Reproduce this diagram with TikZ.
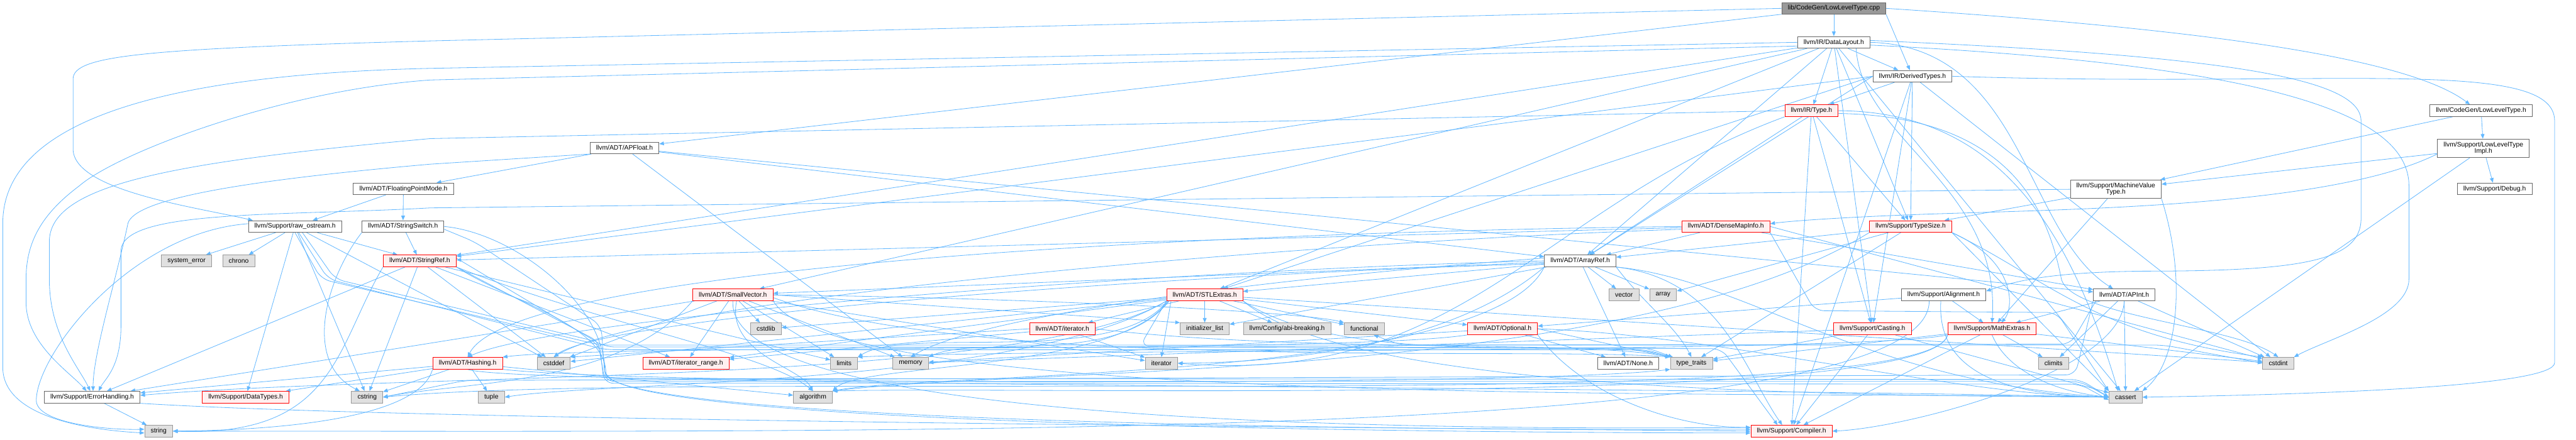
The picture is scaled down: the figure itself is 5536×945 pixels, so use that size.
\documentclass[tikz,border=0pt]{standalone}
\usepackage{fontspec}
\setmainfont{Liberation Sans}
\usetikzlibrary{arrows.meta}
\definecolor{depblue}{HTML}{63B8FF}
\definecolor{cutfill}{HTML}{FFF0F0}
\definecolor{sysfill}{HTML}{E0E0E0}
\definecolor{sysline}{HTML}{999999}
\definecolor{hdrline}{HTML}{666666}
\pgfdeclarelayer{edges}
\pgfsetlayers{edges,main}
\tikzset{
  hdr/.style={draw=hdrline,fill=white,line width=0.6pt,inner xsep=6.5pt,inner ysep=0pt,
    minimum height=12.6pt,align=center,font=\fontsize{7}{7}\selectfont},
  twoline/.style={minimum height=20pt},
  syshdr/.style={hdr,draw=sysline,fill=sysfill},
  cuthdr/.style={hdr,draw=red,fill=cutfill},
  roothdr/.style={hdr,fill=sysline},
  dep/.style={depblue,line width=0.55pt,-{Triangle[length=5pt,width=4pt]}},
  band/.style={dep,rounded corners=10pt}
}

\begin{document}
\begin{tikzpicture}[x=0.5pt,y=-0.5pt]
  \useasboundingbox (0,0) rectangle (5536,945);
  \node[roothdr] (cpp) at (3941,18) {lib/CodeGen/LowLevelType.cpp};
  \node[hdr] (dl) at (3941,91) {llvm/IR/DataLayout.h};
  \node[hdr] (dt) at (4110,164) {llvm/IR/DerivedTypes.h};
  \node[cuthdr] (ty) at (3893,238) {llvm/IR/Type.h};
  \node[hdr] (llth) at (5332,238) {llvm/CodeGen/LowLevelType.h};
  \node[hdr,twoline] (llti) at (5337,319) {llvm/Support/LowLevelType\\Impl.h};
  \node[hdr] (apf) at (1342,318) {llvm/ADT/APFloat.h};
  \node[hdr] (fpm) at (867,406) {llvm/ADT/FloatingPointMode.h};
  \node[hdr,twoline] (mvt) at (4547,407) {llvm/Support/MachineValue\\Type.h};
  \node[hdr] (dbg) at (5361,406) {llvm/Support/Debug.h};
  \node[hdr] (ros) at (634,487) {llvm/Support/raw\_ostream.h};
  \node[hdr] (ssw) at (866,487) {llvm/ADT/StringSwitch.h};
  \node[cuthdr] (dmi) at (3709,487) {llvm/ADT/DenseMapInfo.h};
  \node[cuthdr] (tsz) at (4106,487) {llvm/Support/TypeSize.h};
  \node[syshdr] (serr) at (401,561) {system\_error};
  \node[syshdr] (chr) at (513,561) {chrono};
  \node[cuthdr] (sref) at (902,561) {llvm/ADT/StringRef.h};
  \node[hdr] (aref) at (3396,561) {llvm/ADT/ArrayRef.h};
  \node[cuthdr] (svec) at (1575,634) {llvm/ADT/SmallVector.h};
  \node[cuthdr] (stl) at (2589,634) {llvm/ADT/STLExtras.h};
  \node[syshdr] (vec) at (3490,634) {vector};
  \node[syshdr] (arr) at (3574,634) {array};
  \node[hdr] (aln) at (4177,634) {llvm/Support/Alignment.h};
  \node[hdr] (apint) at (4565,634) {llvm/ADT/APInt.h};
  \node[syshdr] (cstdl) at (1646,707) {cstdlib};
  \node[cuthdr] (iterh) at (2283,707) {llvm/ADT/iterator.h};
  \node[syshdr] (ilist) at (2589,707) {initializer\_list};
  \node[syshdr] (abi) at (2766,707) {llvm/Config/abi-breaking.h};
  \node[syshdr] (func) at (2932,707) {functional};
  \node[cuthdr] (opt) at (3229,707) {llvm/ADT/Optional.h};
  \node[cuthdr] (cast) at (4024,707) {llvm/Support/Casting.h};
  \node[cuthdr] (mext) at (4281,707) {llvm/Support/MathExtras.h};
  \node[cuthdr] (hash) at (1005,781) {llvm/ADT/Hashing.h};
  \node[syshdr] (cdef) at (1190,781) {cstddef};
  \node[cuthdr] (iterr) at (1474,781) {llvm/ADT/iterator\_range.h};
  \node[syshdr] (lim) at (1814,781) {limits};
  \node[syshdr] (mem) at (1957,781) {memory};
  \node[syshdr] (iter) at (2496,781) {iterator};
  \node[hdr] (none) at (3499,781) {llvm/ADT/None.h};
  \node[syshdr] (ttr) at (3635,781) {type\_traits};
  \node[syshdr] (clim) at (4413,781) {climits};
  \node[syshdr] (cint) at (4896,781) {cstdint};
  \node[hdr] (eh) at (198,854) {llvm/Support/ErrorHandling.h};
  \node[cuthdr] (dtyp) at (528,854) {llvm/Support/DataTypes.h};
  \node[syshdr] (cstr) at (789,854) {cstring};
  \node[syshdr] (tup) at (1056,854) {tuple};
  \node[syshdr] (alg) at (1747,854) {algorithm};
  \node[syshdr] (cass) at (4568,854) {cassert};
  \node[syshdr] (str) at (341,927) {string};
  \node[cuthdr] (comp) at (3850,927) {llvm/Support/Compiler.h};
  \begin{pgfonlayer}{edges}
    \fill[white] (0,0) rectangle (5536,945);
    \draw[dep] (cpp) -- (dl);
    \draw[dep] (cpp.south east) -- (dt);
    \draw[dep] (cpp) -- (apf);
    \draw[dep] (cpp.west) -- (925,88) .. controls (300,105) and (157,120) .. (157,170) -- (157,320) .. controls (157,410) and (420,445) .. ([xshift=5pt]ros.north west);
    \draw[dep] (cpp.east) .. controls (4700,60) and (5170,120) .. ([xshift=-12pt]llth.north);
    \foreach \t in {dt,ty,tsz,aref,stl,svec,sref,cast,cass} \draw[dep] (dl) -- (\t);
    \draw[dep] ([xshift=24pt]dl.south) .. controls (4000,300) and (4300,400) .. (mext.north);
    \draw[dep] (dl.east) .. controls (4350,100) and (4350,500) .. ([xshift=-12pt]apint.north);
    \draw[dep] (dl.west) -- (925,147) .. controls (350,160) and (6,260) .. (6,480) -- (6,790) .. controls (6,900) and (200,925) .. ([yshift=-2pt]str.west);
    \draw[dep] ([yshift=-4pt]dl.west) -- (925,172) .. controls (600,195) and (250,330) .. (170,400) .. controls (90,460) and (56,520) .. (56,600) -- (56,650) .. controls (56,740) and (150,800) .. ([xshift=-6pt]eh.north);
    \draw[dep] ([yshift=2pt]dl.east) .. controls (4800,120) and (5074,170) .. (5074,260) -- (5074,470) .. controls (5074,560) and (4950,583) .. (4611,583) .. controls (4400,585) and (4330,605) .. ([yshift=4pt]aln.east);
    \draw[dep] ([yshift=-3pt]dl.east) .. controls (4900,140) and (5177,250) .. (5177,400) -- (5177,600) .. controls (5177,680) and (5000,730) .. (cint.north east);
    \foreach \t in {ty,tsz,comp,cint,cast} \draw[dep] (dt) -- (\t);
    \foreach \t in {aref,stl,sref} \draw[dep] (dt.west) -- (\t);
    \draw[dep] (dt.east) .. controls (5000,190) and (5490,120) .. (5490,260) -- (5490,780) .. controls (5490,830) and (5000,848) .. (cass.east);
    \foreach \t in {aref,cast,comp,tsz} \draw[dep] (ty) -- (\t);
    \draw[dep] (ty.east) .. controls (4300,240) and (4450,500) .. ([xshift=-8pt]cass.north);
    \draw[dep] ([yshift=-3pt]ty.east) .. controls (4320,250) and (4400,450) .. (4430,600) .. controls (4450,680) and (4800,700) .. (cint.north);
    \draw[dep] (ty.south west) .. controls (3300,450) and (3150,830) .. (iter.east);
    \draw[dep] (ty.west) -- (925,298) .. controls (350,350) and (106,400) .. (106,520) -- (106,600) .. controls (106,720) and (170,790) .. ([xshift=-2pt]eh.north);
    \foreach \t in {llti,mvt} \draw[dep] (llth) -- (\t);
    \foreach \t in {dbg,mvt,cass} \draw[dep] (llti) -- (\t);
    \draw[dep] ([yshift=-6pt]llti.west) .. controls (5000,450) and (4400,450) .. (4100,462) .. controls (3950,468) and (3850,475) .. ([yshift=3pt]dmi.east);
    \foreach \t in {mext,tsz} \draw[dep] (mvt) -- (\t);
    \draw[dep] (mvt.south east) .. controls (4700,600) and (4680,780) .. (cass.north east);
    \draw[dep] (mvt.west) -- (925,447) .. controls (600,465) and (260,450) .. (260,540) -- (260,700) .. controls (260,790) and (225,815) .. ([xshift=7pt]eh.north);
    \foreach \t in {fpm,apint,aref,mem} \draw[dep] (apf) -- (\t);
    \draw[dep] (apf.south west) -- (925,353) .. controls (500,390) and (290,430) .. (275,480) .. controls (250,600) and (200,760) .. ([xshift=1pt]eh.north);
    \foreach \t in {ssw,ros} \draw[dep] (fpm) -- (\t);
    \foreach \t in {sref,chr,serr,cdef,cstr,dtyp} \draw[dep] (ros) -- (\t);
    \draw[dep] ([yshift=3pt]ros.west) .. controls (280,500) and (80,760) .. (78,860) .. controls (76,910) and (230,925) .. ([yshift=2pt]str.west);
    \draw[band] (ros.south) -- (690,600) -- (1290,742) -- (4650,742) -- (cint.west);
    \draw[band] ([xshift=4pt]ros.south) -- (705,600) -- (1300,752) -- (3540,752) -- (ttr.north west);
    \draw[band] ([xshift=8pt]ros.south) -- (720,600) -- (1285,735) -- (1300,820) -- (4470,820) -- (cass.west);
    \draw[dep] (ssw) -- (sref);
    \draw[dep] (ssw.east) .. controls (1100,500) and (1300,650) .. (1300,800) .. controls (1300,900) and (2800,927) .. ([yshift=2pt]comp.west);
    \draw[band] ([yshift=-3pt]ssw.east) -- (1020,520) -- (1292,700) -- (1300,814) -- (4470,816) -- (cass.west);
    \draw[dep] (ssw.south west) .. controls (700,600) and (650,780) .. ([xshift=-8pt]cstr.north);
    \foreach \t in {iterr,cdef,cstr,lim,eh} \draw[dep] (sref) -- (\t);
    \draw[dep] (sref.south east) .. controls (1100,650) and (1300,700) .. (1302,800) .. controls (1304,905) and (2800,930) .. ([yshift=-2pt]comp.west);
    \draw[dep] (sref.south east) .. controls (1300,700) and (1650,760) .. (alg.north);
    \draw[band] (sref.south east) -- (1288,735) -- (1298,824) -- (4470,826) -- ([yshift=-3pt]cass.west);
    \draw[dep] (sref.south west) .. controls (720,750) and (720,940) .. (str.east);
    \draw[band] ([yshift=3pt]sref.east) -- (1300,746) -- (3540,748) -- ([xshift=3pt]ttr.north west);
    \foreach \t in {aref,apint,sref} \draw[dep] (dmi) -- (\t);
    \draw[dep] (dmi.east) -- (cint);
    \draw[dep] (dmi.west) .. controls (2500,500) and (1100,580) .. (hash.north);
    \draw[dep] ([yshift=-3pt]dmi.west) .. controls (2800,520) and (1400,640) .. (cdef.north);
    \draw[band] (dmi.south east) -- (3900,668) -- (4420,672) -- (cass.north west);
    \foreach \t in {aref,arr,ttr} \draw[dep] (tsz) -- (\t);
    \draw[dep] (tsz.south east) -- (cass.north west);
    \draw[dep] (tsz.south east) .. controls (4330,560) and (4330,660) .. ([xshift=10pt]mext.north);
    \draw[dep] (tsz.south west) .. controls (3500,820) and (2200,790) .. (alg.north east);
    \draw[dep] (tsz.south east) .. controls (4400,600) and (4500,720) .. (cint.north west);
    \foreach \t in {mext,opt} \draw[dep] (aln) -- (\t);
    \draw[dep] ([xshift=-3pt]aln.south) .. controls (4160,820) and (4350,850) .. (cass.west);
    \draw[dep] ([xshift=-15.5pt]aln.south) .. controls (4146,950) and (2000,927) .. (str.east);
    \foreach \t in {mext,cass,clim,cint} \draw[dep] (apint) -- (\t);
    \draw[dep] (apint.south) .. controls (4560,800) and (4100,920) .. (comp.east);
    \draw[band] (apint.south west) -- (4460,806) -- (1000,818) -- (cstr.east);
    \draw[band] ([xshift=3pt]apint.south west) -- (4450,740) -- (3010,742) -- ([xshift=10pt]func.south);
    \foreach \t in {none,svec,stl,arr,vec,ilist} \draw[dep] (aref) -- (\t);
    \draw[dep] (aref.west) .. controls (2500,580) and (1200,680) .. (hash.north);
    \draw[dep] (aref.south east) .. controls (3700,600) and (3750,800) .. ([xshift=-10pt]comp.north);
    \draw[dep] (aref.south west) .. controls (3200,820) and (2000,800) .. (alg.north east);
    \draw[dep] (aref.south east) .. controls (3750,600) and (4000,820) .. (cass.west);
    \draw[dep] ([yshift=-3pt]aref.west) .. controls (2500,590) and (1300,680) .. (cdef.north);
    \draw[dep] (aref.south west) .. controls (3100,760) and (2700,780) .. (iter.east);
    \draw[dep] ([yshift=3pt]aref.west) .. controls (2700,600) and (2100,680) .. (mem.north);
    \draw[dep] (aref.south east) .. controls (3530,650) and (3600,700) .. (ttr.north);
    \foreach \t in {dtyp,eh,alg,cstr,tup} \draw[dep] (hash) -- (\t);
    \draw[dep] (hash.south) .. controls (1100,830) and (3500,830) .. (cass.west);
    \draw[dep] (hash.south west) .. controls (900,900) and (600,925) .. (str.east);
    \draw[dep] (hash.south east) .. controls (1400,830) and (3300,830) .. (ttr.south west);
    \foreach \t in {eh,iterr,cdef,cstdl,iter,lim,mem} \draw[dep] (svec) -- (\t);
    \draw[dep] (svec.east) -- (ilist.north west);
    \draw[dep] (svec.south) .. controls (1560,897) and (2861,927) .. ([yshift=4pt]comp.west);
    \draw[dep] ([xshift=4pt]svec.south) .. controls (1560,760) and (1720,790) .. (alg.north);
    \draw[dep] (svec.south east) .. controls (1800,880) and (3800,840) .. (cass.west);
    \draw[dep] (svec.south west) .. controls (1330,830) and (1000,820) .. (cstr.east);
    \draw[dep] (svec.east) .. controls (2200,640) and (2800,670) .. (func.north west);
    \draw[dep] ([yshift=-3pt]svec.east) .. controls (2100,800) and (3300,745) .. (ttr.north west);
    \foreach \t in {opt,iterh,iterr,abi,cdef,cint,cstdl,func,ilist} \draw[dep] (stl) -- (\t);
    \draw[dep] ([xshift=5pt]stl.south west) -- (iter.north);
    \draw[dep] (stl.south west) .. controls (2200,830) and (900,800) .. ([yshift=2pt]eh.east);
    \draw[dep] ([xshift=2pt]stl.south west) .. controls (2400,800) and (1850,780) .. (alg.north east);
    \draw[dep] ([xshift=1pt]stl.south west) .. controls (2400,790) and (1950,700) .. (lim.north east);
    \draw[dep] ([xshift=3pt]stl.south west) .. controls (2400,790) and (2100,720) .. (mem.north east);
    \draw[dep] (stl.south west) .. controls (2200,830) and (1300,820) .. (tup.east);
    \draw[dep] (stl.south east) .. controls (2900,840) and (3900,850) .. (cass.west);
    \draw[dep] (stl.south east) .. controls (2900,800) and (3450,720) .. (ttr.north west);
    \draw[band] (stl.south west) -- (2450,744) -- (3700,750) -- ([xshift=-15pt]comp.north);
    \draw[dep] (iterh) -- (iterr);
    \draw[dep] (iterh) -- (iter);
    \draw[dep] (iterh.west) -- (cdef.north east);
    \draw[dep] (iterh.east) .. controls (2800,760) and (3400,730) .. (ttr.north west);
    \foreach \t in {none,mem} \draw[dep] (opt) -- (\t);
    \draw[dep] (opt.east) -- (ttr.north west);
    \draw[dep] (opt.south west) .. controls (2900,760) and (1300,740) .. (hash.north east);
    \draw[dep] (opt.south east) .. controls (3400,850) and (3600,920) .. ([yshift=4pt]comp.west);
    \draw[dep] (opt.east) .. controls (3700,720) and (4200,850) .. (cass.west);
    \foreach \t in {comp,cass,mem,ttr} \draw[dep] (cast) -- (\t);
    \foreach \t in {comp,clim,cint,ttr} \draw[dep] (mext) -- (\t);
    \draw[dep] (mext.south) .. controls (4310,790) and (4400,840) .. (cass.west);
    \draw[dep] (mext.south west) .. controls (4150,900) and (1500,790) .. (cstr.east);
    \draw[dep] (mext.south west) .. controls (4000,760) and (2200,750) .. (lim.north east);
    \draw[dep] (mext.south west) .. controls (4150,880) and (2200,830) .. (alg.north east);
    \draw[dep] (eh) -- (str);
    \draw[dep] (eh.south east) .. controls (900,905) and (3000,920) .. (comp.west);
  \end{pgfonlayer}
\end{tikzpicture}
\end{document}
